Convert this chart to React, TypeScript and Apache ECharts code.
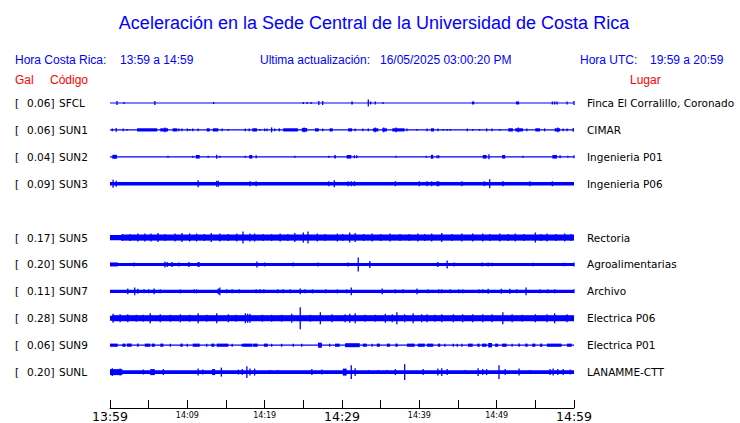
import React, { useEffect, useRef } from "react";
import * as echarts from "echarts";

// ---- Data ----
const TITLE = "Aceleración en la Sede Central de la Universidad de Costa Rica";
const STATIONS = ["SFCL", "SUN1", "SUN2", "SUN3", "SUN5", "SUN6", "SUN7", "SUN8", "SUN9", "SUNL"];
const ROWS = [0, 1, 2, 3, 5, 6, 7, 8, 9, 10];
const GAL = ["0.06", "0.06", "0.04", "0.09", "0.17", "0.20", "0.11", "0.28", "0.06", "0.20"];
const PLACES = [
  "Finca El Corralillo, Coronado",
  "CIMAR",
  "Ingenieria P01",
  "Ingenieria P06",
  "Rectoria",
  "Agroalimentarias",
  "Archivo",
  "Electrica P06",
  "Electrica P01",
  "LANAMME-CTT",
];
const TICK_LABELS = ["13:59", "14:09", "14:19", "14:29", "14:39", "14:49", "14:59"];
// minutes since 13:59; base half-amplitude of each trace
const BASE_AMP = [0.5, 0.6, 0.6, 1.75, 2.6, 1.5, 1.6, 2.5, 0.6, 1.8];

// events: [minute, halfAmp] or [fromMinute, toMinute, halfAmp]
const SFCL_EV = [
  [0.9, 2], [1.8, 1], [5.8, 2], [13.4, 1], [25.0, 1], [25.5, 1], [26.0, 1], [27.0, 2], [27.5, 2],
  [31.2, 31.4, 1.5], [33.4, 3.5], [33.7, 1.5], [34.3, 1.5], [35.3, 1], [46.8, 47.1, 1.5],
  [52.5, 52.9, 1.5], [57.2, 1.5], [57.5, 1.5], [57.8, 1.5], [59.1, 1.5], [60, 2],
];
const SUN1_EV = [
  [0.3, 1.5], [0.8, 2], [1.7, 1.5], [2.2, 1], [3.5, 6.1, 1.6], [6.5, 7.5, 1.6], [7.1, 2.5],
  [8.1, 8.7, 1.6], [8.9, 1.5], [9.3, 1.5], [10.0, 1.5], [10.3, 1], [10.7, 1.5], [11.4, 1.5],
  [12.5, 12.9, 1.6], [13.3, 14.0, 1.6], [14.5, 1.5], [15.3, 1], [17.5, 1.5], [18.0, 1.5],
  [18.4, 19.0, 1.6], [19.4, 1], [20.0, 1.5], [20.3, 1.5], [20.9, 2.5], [21.3, 1.5], [21.9, 1.5],
  [22.4, 24.3, 1.6], [24.8, 25.5, 1.8], [25.1, 2.5], [26.5, 27.0, 1.6], [27.5, 1.5], [28.4, 28.8, 1.6],
  [30.8, 31.3, 1.6], [31.7, 1.5], [32.7, 1.5], [33.4, 1.5], [34.0, 34.7, 1.6], [34.3, 2.5],
  [35.2, 35.8, 1.6], [35.4, 2.5], [36.5, 38.1, 1.6], [37.0, 2.5], [38.4, 1.5], [39.7, 1], [41.0, 1.5],
  [41.5, 41.9, 1.6], [42.4, 1.5], [43.1, 1], [43.6, 1], [44.0, 1], [46.2, 1.5], [46.9, 1], [47.8, 1],
  [48.7, 1.5], [49.4, 1.5], [50.4, 1], [51.5, 52.1, 1.6], [52.4, 53.4, 1.6], [52.8, 2.5], [53.9, 1.5],
  [55.0, 55.6, 1.6], [56.2, 1.5], [57.5, 58.2, 1.6], [57.9, 2.5], [58.6, 1.5], [59.1, 1.5], [59.9, 2],
];
const SUN2_EV = [
  [0.3, 0.9, 2], [7.5, 1], [10.7, 1], [11.1, 11.6, 1.8], [12.7, 1], [13.8, 2], [14.2, 1], [17.5, 1],
  [18.0, 18.4, 1.8], [18.9, 1.5], [23.9, 1], [28.3, 1], [29.0, 29.2, 1.8], [30.6, 31.2, 1.8],
  [31.6, 1.5], [31.9, 1.5], [37.0, 1], [40.9, 1], [41.5, 41.8, 2], [42.3, 1.5], [42.5, 1.5],
  [48.2, 48.7, 1.8], [49.0, 2.5], [50.7, 51.1, 1.8], [53.4, 1], [57.2, 57.8, 1.8], [58.2, 1.5],
  [59.2, 1], [60, 1.5],
];
const SUN3_EV = [
  [0.4, 4], [0.8, 3], [11.4, 3.5], [13.8, 3], [14.0, 3], [18.1, 2.5], [18.9, 2.5], [28.3, 2.5],
  [29.0, 3.5], [30.8, 2.5], [31.2, 2.5], [31.6, 2.5], [36.9, 2.5], [40.0, 2.5], [41.0, 2.5],
  [41.6, 2.5], [42.3, 2.5], [42.5, 2.5], [45.5, 2.5], [48.4, 2.5], [49.1, 4.5], [50.7, 50.9, 2.5],
  [54.3, 2.5], [57.2, 2.5],
];
const SUN5_EV = [
  [1.5, 60, 3.0],
  [1.6, 3.5], [2.6, 3.5], [3.6, 4], [4.5, 4], [5.3, 4], [6.2, 4.5], [7.1, 3.5], [8.4, 4], [9.3, 4.5],
  [10.3, 4], [11.2, 4], [12.2, 3.5], [13.1, 4.5], [14.2, 4], [15.3, 3.5], [16.4, 4], [17.2, 6],
  [18.1, 4], [18.7, 4], [19.8, 3.5], [20.9, 3.5], [22.0, 4], [23.0, 3.5], [23.9, 4.5], [25.0, 5],
  [25.6, 6], [26.8, 4], [27.8, 3.5], [29.4, 4], [30.1, 3.5], [31.0, 5], [31.7, 4.5], [32.8, 3.5],
  [33.9, 4], [35.0, 3.5], [36.2, 4], [37.5, 3.5], [38.7, 3.5], [39.8, 4], [40.7, 3.5], [41.6, 4],
  [42.9, 4.5], [44.2, 3.5], [45.5, 4], [46.9, 4], [48.2, 4], [49.1, 3.5], [50.4, 4], [51.5, 3.5],
  [52.4, 4], [53.5, 3.5], [55.0, 5], [55.7, 3.5], [56.5, 4], [57.7, 3.5], [58.8, 4], [59.6, 3.5],
];
const SUN6_EV = [
  [0, 1.0, 2], [3.1, 2], [7.1, 3], [7.4, 2.5], [8.0, 2.5], [8.9, 2], [10.2, 2.5], [11.4, 2.5],
  [11.5, 2.5], [19.0, 3], [20.0, 2], [23.7, 2], [26.9, 2], [30.8, 2], [32.1, 7], [33.6, 3.5],
  [42.4, 2.5], [43.6, 4], [44.5, 2], [48.1, 2], [48.9, 2], [49.4, 1.8], [54.7, 1.8], [58.7, 1.8],
  [60, 2],
];
const SUN7_EV = [
  [2.3, 3], [3.2, 4], [3.6, 2.5], [4.4, 2], [5.0, 2], [5.7, 3], [6.5, 2], [9.1, 2], [10.9, 2],
  [11.2, 2], [14.0, 3], [14.2, 4], [15.1, 2], [15.8, 2], [16.7, 2], [18.9, 2], [19.4, 2], [19.9, 2],
  [21.7, 2], [22.4, 2], [23.3, 2], [24.6, 3], [25.2, 2], [26.2, 2], [27.9, 2], [29.4, 2], [30.6, 2],
  [31.2, 4], [35.2, 3], [36.9, 2], [37.9, 2], [39.7, 3], [41.1, 2], [42.5, 2], [42.9, 2], [44.0, 2],
  [45.1, 2], [45.6, 2], [47.7, 2], [48.2, 2], [48.9, 2.5], [50.6, 2.5], [51.7, 2.5], [52.6, 2],
  [53.8, 4], [55.6, 2], [56.6, 2], [57.5, 2], [60, 2],
];
const SUN8_EV = [
  [0.3, 60, 3.0],
  [0.4, 4.5], [1.3, 4], [2.3, 4], [3.4, 3.5], [4.3, 3.5], [5.2, 5], [6.5, 4], [7.8, 3.5], [9.1, 4],
  [10.3, 3.5], [11.4, 5], [12.5, 3.5], [13.8, 5], [15.3, 4], [16.3, 3.5], [17.5, 5], [17.8, 4.5],
  [18.1, 4.5], [19.7, 3.5], [20.9, 3.5], [22.2, 3.5], [23.5, 4.5], [24.6, 11], [25.9, 3.5],
  [27.2, 6], [28.7, 4], [30.4, 4], [31.0, 4.5], [31.7, 5], [33.0, 3.5], [34.3, 3.5], [35.6, 4.5],
  [36.5, 4], [37.1, 6], [38.1, 4], [39.2, 5], [40.3, 4], [41.0, 4], [42.0, 3.5], [42.9, 4],
  [44.4, 4], [45.6, 4], [46.9, 4], [48.2, 4], [49.4, 4], [50.8, 6], [52.0, 4], [53.3, 3.5],
  [55.0, 4], [56.5, 4], [57.5, 5], [59.1, 4],
];
const SUN9_EV = [
  [0.0, 1.0, 1.6], [1.6, 2.0, 1.6], [2.2, 2.8, 1.6], [3.5, 3.7, 1.6], [4.5, 5.2, 1.6], [5.4, 5.8, 1.6],
  [6.5, 6.9, 1.6], [7.8, 1.5], [9.1, 9.4, 1.6], [10.0, 1.5], [10.7, 11.6, 1.6], [12.5, 1.5],
  [13.1, 13.5, 1.6], [13.8, 15.3, 1.6], [15.8, 1.5], [17.1, 1.5], [17.2, 18.4, 1.6], [18.5, 19.1, 1.6],
  [19.9, 20.4, 1.6], [20.9, 1.5], [22.2, 1.5], [23.7, 1.5], [24.8, 1.5], [26.9, 27.4, 2.5], [28.4, 1.5],
  [29.1, 29.7, 1.6], [30.4, 32.3, 2.0], [32.7, 33.2, 1.6], [33.9, 1.5], [34.5, 34.9, 1.6],
  [35.8, 36.2, 1.6], [36.9, 37.2, 1.6], [38.4, 39.4, 1.6], [39.8, 40.7, 1.6], [41.0, 41.8, 1.6],
  [42.4, 42.7, 1.6], [43.3, 1.5], [44.4, 1.5], [44.9, 1.5], [45.5, 1.5], [46.3, 46.9, 1.6],
  [47.5, 47.8, 1.6], [48.1, 48.7, 1.6], [48.9, 49.4, 2.2], [49.8, 50.2, 1.6], [50.7, 51.3, 1.6],
  [52.0, 1.5], [52.8, 53.0, 1.6], [53.7, 54.0, 1.6], [54.6, 55.0, 1.6], [55.6, 55.9, 1.6],
  [56.5, 58.4, 1.6], [59.1, 59.7, 1.6],
];
const SUNL_EV = [
  [0, 1.6, 3], [0.3, 4], [1.3, 3.5], [4.3, 2.5], [5.2, 5.8, 3], [6.9, 3], [11.4, 3.5], [12.0, 2.5],
  [13.2, 13.6, 3], [14.4, 4.5], [16.6, 2.5], [17.1, 3], [17.7, 6], [18.1, 3.5], [18.7, 3.5],
  [20.7, 2], [21.7, 2], [26.1, 3], [27.4, 2.5], [30.1, 30.6, 3.5], [31.2, 7], [31.7, 4], [33.4, 2],
  [34.7, 2], [35.8, 2], [36.9, 3], [38.1, 8], [40.5, 3], [42.4, 3.5], [42.9, 4], [43.6, 3],
  [45.9, 2], [47.6, 4], [48.2, 3], [48.7, 3], [50.3, 7], [51.1, 3], [52.9, 3.5], [54.3, 2],
  [56.9, 3], [57.3, 3.5], [57.9, 3], [58.6, 3], [59.5, 2.5],
];
const EVENTS = [SFCL_EV, SUN1_EV, SUN2_EV, SUN3_EV, SUN5_EV, SUN6_EV, SUN7_EV, SUN8_EV, SUN9_EV, SUNL_EV];

// ---- Layout / style ----
const ROW_UNIT = 27;
const BLUE = "#0000ff";
const RED = "#ff0000";
const SANS = "'Liberation Sans', Arial, sans-serif";
const DEJA = "'DejaVu Sans', sans-serif";

function renderItem(params: any, api: any) {
  const t0 = api.value(0);
  const t1 = api.value(1);
  const amp = api.value(2);
  const yv = api.value(3);
  const p0 = api.coord([t0, yv]);
  const p1 = api.coord([t1, yv]);
  const h = Math.abs(api.size([0, amp])[1]);
  const minW = 1.3;
  let x = p0[0];
  let w = p1[0] - p0[0];
  if (w < minW) {
    x = p0[0] - minW / 2;
    w = minW;
  }
  return {
    type: "rect",
    shape: { x, y: p0[1] - h, width: w, height: 2 * h },
    style: { fill: BLUE },
  };
}

export default function App() {
  const ref = useRef<HTMLDivElement>(null);
  useEffect(() => {
    if (!ref.current) return;
    const chart = echarts.init(ref.current, null, { renderer: "svg" });
    const series = STATIONS.map((code, i) => {
      const yv = ROWS[i] * ROW_UNIT;
      const data: number[][] = [[0, 60, BASE_AMP[i], yv]];
      EVENTS[i].forEach((e: number[]) => {
        if (e.length === 2) data.push([e[0], e[0], e[1], yv]);
        else data.push([e[0], e[1], e[2], yv]);
      });
      return {
        type: "custom",
        name: code,
        renderItem,
        encode: { x: [0, 1], y: 3 },
        data,
        clip: false,
        silent: true,
      };
    });
    chart.setOption({
      animation: false,
      backgroundColor: "#fff",
      grid: { left: 110, right: 166, top: 89.5, height: 319.5, containLabel: false },
      xAxis: {
        type: "value",
        position: "bottom",
        min: 0,
        max: 60,
        interval: 5,
        axisLine: { onZero: false, lineStyle: { color: "#000", width: 1 } },
        axisTick: { inside: true, length: 8, lineStyle: { color: "#000" } },
        splitLine: { show: false },
        axisLabel: {
          margin: 2,
          showMinLabel: true,
          showMaxLabel: true,
          formatter: (v: number) => {
            if (v % 10 !== 0) return "";
            const lab = TICK_LABELS[v / 10];
            return v % 30 === 0 ? `{big|${lab}}` : `{small|${lab}}`;
          },
          rich: {
            big: { fontSize: 12.5, fontFamily: DEJA, color: "#000", lineHeight: 13 },
            small: { fontSize: 8, fontFamily: DEJA, color: "#000", lineHeight: 10, padding: [1, 0, 0, 0] },
          },
        },
      },
      yAxis: {
        type: "value",
        inverse: true,
        min: -13.5,
        max: 306,
        show: false,
        splitLine: { show: false },
      },
      series,
    });

    const graphic: any[] = [
      {
        type: "text",
        x: 374,
        y: 23,
        style: { text: TITLE, fill: BLUE, font: `18px ${SANS}`, textAlign: "center", textVerticalAlign: "middle" },
      },
      { type: "text", x: 15, y: 60, style: { text: "Hora Costa Rica:", fill: BLUE, font: `12px ${SANS}`, textVerticalAlign: "middle" } },
      { type: "text", x: 120, y: 60, style: { text: "13:59 a 14:59", fill: BLUE, font: `12px ${SANS}`, textVerticalAlign: "middle" } },
      { type: "text", x: 260, y: 60, style: { text: "Ultima actualización:", fill: BLUE, font: `12px ${SANS}`, textVerticalAlign: "middle" } },
      { type: "text", x: 380, y: 60, style: { text: "16/05/2025 03:00:20 PM", fill: BLUE, font: `12px ${SANS}`, textVerticalAlign: "middle" } },
      { type: "text", x: 580, y: 60, style: { text: "Hora UTC:", fill: BLUE, font: `12px ${SANS}`, textVerticalAlign: "middle" } },
      { type: "text", x: 650, y: 60, style: { text: "19:59 a 20:59", fill: BLUE, font: `12px ${SANS}`, textVerticalAlign: "middle" } },
      { type: "text", x: 15, y: 80, style: { text: "Gal", fill: RED, font: `12px ${SANS}`, textVerticalAlign: "middle" } },
      { type: "text", x: 50, y: 80, style: { text: "Código", fill: RED, font: `12px ${SANS}`, textVerticalAlign: "middle" } },
      { type: "text", x: 630, y: 80, style: { text: "Lugar", fill: RED, font: `12px ${SANS}`, textVerticalAlign: "middle" } },
    ];
    STATIONS.forEach((code, i) => {
      const y = chart.convertToPixel({ yAxisIndex: 0 }, ROWS[i] * ROW_UNIT) as number;
      const f = `10.5px ${DEJA}`;
      graphic.push(
        { type: "text", x: 15, y, style: { text: "[", fill: "#000", font: f, textVerticalAlign: "middle" } },
        { type: "text", x: 27, y, style: { text: `${GAL[i]}]`, fill: "#000", font: f, textVerticalAlign: "middle" } },
        { type: "text", x: 59, y, style: { text: code, fill: "#000", font: f, textVerticalAlign: "middle" } },
        { type: "text", x: 587, y, style: { text: PLACES[i], fill: "#000", font: f, textVerticalAlign: "middle" } }
      );
    });
    chart.setOption({ graphic });
    return () => chart.dispose();
  }, []);
  return <div ref={ref} style={{ width: 740, height: 423, position: "absolute", left: 0, top: 0 }} />;
}
